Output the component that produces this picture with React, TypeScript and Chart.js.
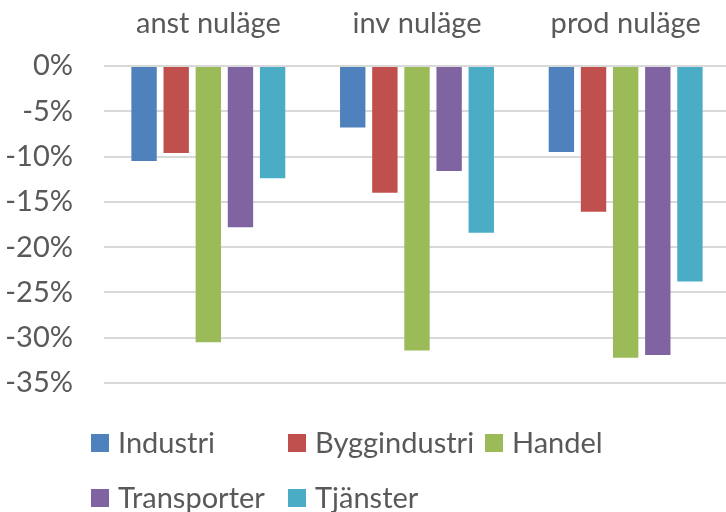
import React, { useEffect, useRef } from "react";
import { Chart, registerables } from "chart.js";

Chart.register(...registerables);

const categories = ["anst nuläge", "inv nuläge", "prod nuläge"];
const industri = [-10.5, -6.8, -9.5];
const byggindustri = [-9.6, -14.0, -16.1];
const handel = [-30.5, -31.4, -32.2];
const transporter = [-17.8, -11.6, -31.9];
const tjanster = [-12.4, -18.4, -23.8];
const seriesNames = ["Industri", "Byggindustri", "Handel", "Transporter", "Tjänster"];
const seriesColors = ["#4F81BD", "#C0504D", "#9BBB59", "#8064A2", "#4BACC6"];
const yTicks = [0, -5, -10, -15, -20, -25, -30, -35];

const FONT = "Lato";
const TEXT = "#595959";

const legendGrid = {
  id: "legendGrid",
  afterDraw(chart: any) {
    const ctx = chart.ctx;
    ctx.save();
    chart.data.datasets.forEach((ds: any, i: number) => {
      const col = i % 3;
      const row = Math.floor(i / 3);
      const x = 91 + col * 197;
      const y = 443 + row * 55;
      ctx.fillStyle = ds.backgroundColor;
      ctx.fillRect(x, y - 9, 18, 18);
      ctx.fillStyle = TEXT;
      ctx.font = `29px ${FONT}`;
      ctx.textBaseline = "middle";
      ctx.textAlign = "left";
      ctx.fillText(ds.label, x + 27, y + 1);
    });
    ctx.restore();
  },
};

export default function App() {
  const ref = useRef<HTMLCanvasElement>(null);
  useEffect(() => {
    const values = [industri, byggindustri, handel, transporter, tjanster];
    const chart = new Chart(ref.current!, {
      type: "bar",
      data: {
        labels: categories,
        datasets: values.map((v, i) => ({
          label: seriesNames[i],
          data: v,
          backgroundColor: seriesColors[i],
          borderWidth: 0,
          categoryPercentage: 0.77,
          barPercentage: 0.79,
        })),
      },
      options: {
        responsive: false,
        animation: false,
        layout: { padding: { top: 0, left: 0, right: 0, bottom: 129 } },
        plugins: { legend: { display: false }, tooltip: { enabled: false } },
        scales: {
          x: {
            position: "top",
            grid: { display: false, drawTicks: false },
            border: { display: false },
            ticks: { color: TEXT, font: { family: FONT, size: 29 }, padding: 25 },
            afterFit: (s: any) => { s.height = 66; },
          },
          y: {
            min: -35,
            max: 0,
            afterBuildTicks: (s: any) => { s.ticks = yTicks.map((v) => ({ value: v })); },
            grid: { color: "#d9d9d9", lineWidth: 2, drawTicks: false },
            border: { display: false },
            ticks: {
              color: TEXT,
              font: { family: FONT, size: 29 },
              padding: 31,
              callback: (v: any) => `${v}%`,
            },
            afterFit: (s: any) => { s.width = 104; },
          },
        },
      },
      plugins: [legendGrid],
    });
    return () => chart.destroy();
  }, []);
  return (
    <div style={{ position: "fixed", left: 0, top: 0, width: 726, height: 512, overflow: "hidden", background: "#fff" }}>
      <canvas ref={ref} width={730} height={512} />
    </div>
  );
}
